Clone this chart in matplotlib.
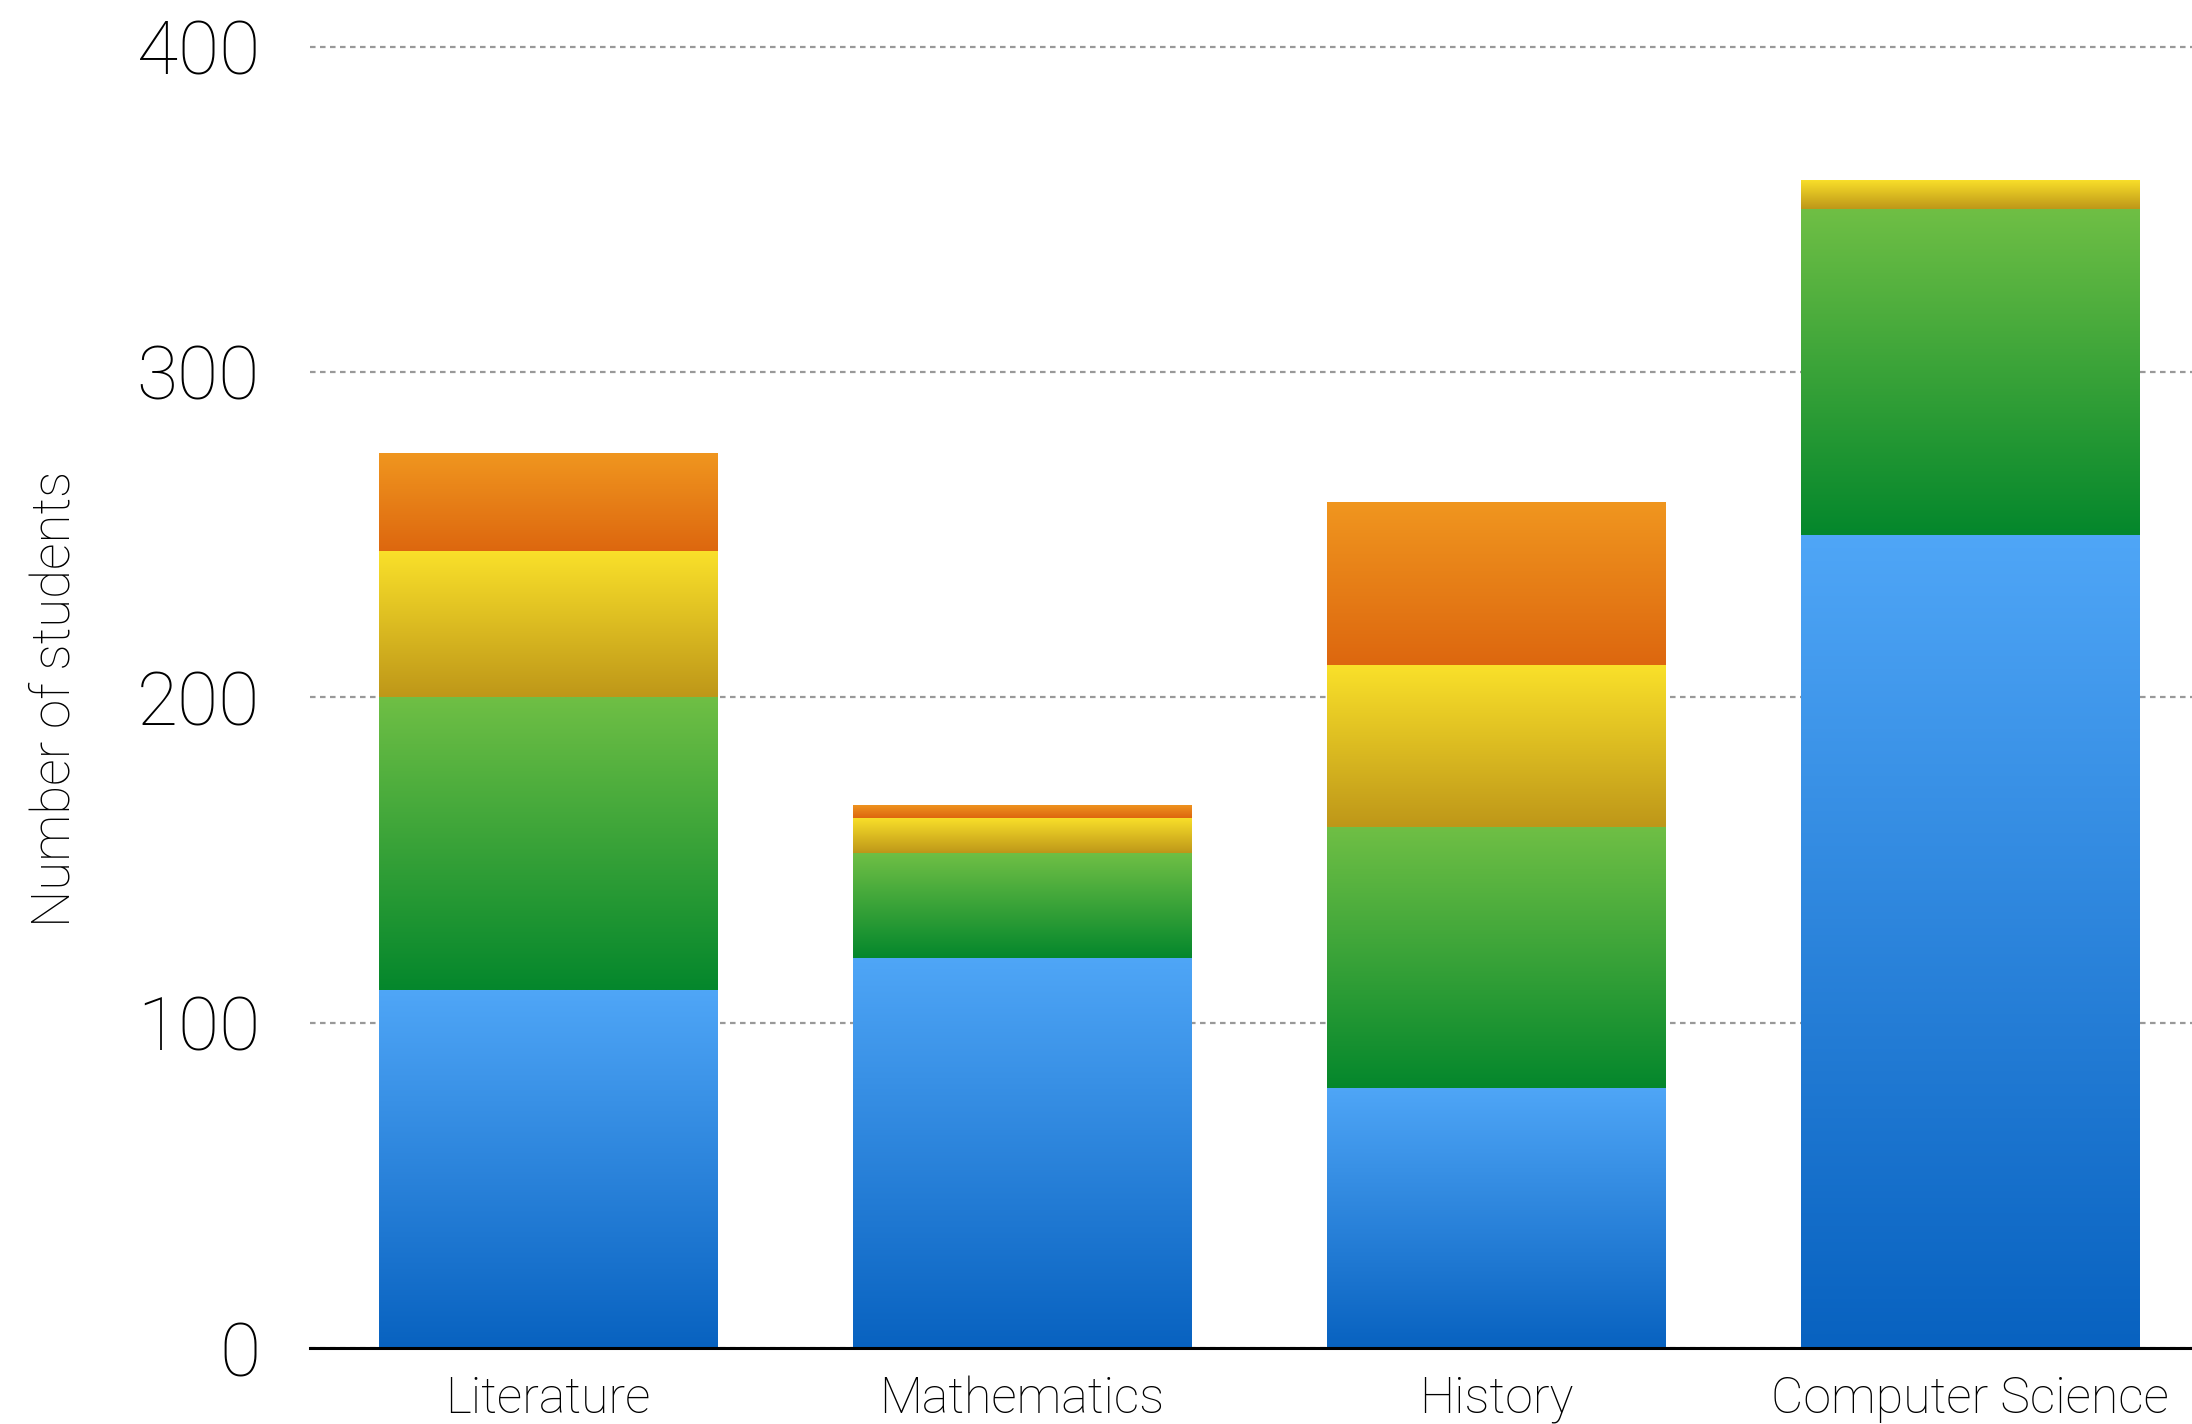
import matplotlib
matplotlib.use("Agg")
import matplotlib.pyplot as plt
import numpy as np
from matplotlib.colors import LinearSegmentedColormap

categories = ["Literature", "Mathematics", "History", "Computer Science"]
blue_vals = [110, 120, 80, 250]
green_vals = [90, 32, 80, 100]
yellow_vals = [45, 11, 50, 9]
orange_vals = [30, 4, 50, 0]
yticks = [0, 100, 200, 300, 400]

series = [blue_vals, green_vals, yellow_vals, orange_vals]
grads = [("#4FA6F7", "#0862C0"),
         ("#6FBF45", "#04872C"),
         ("#FAE12A", "#BE9719"),
         ("#F0961F", "#DD670F")]

plt.rcParams['font.family'] = ['Roboto', 'DejaVu Sans']

fig = plt.figure(figsize=(21.92, 14.24), dpi=100)
ax = fig.add_axes([310/2192, 0.05337, 1 - 310/2192, 0.9787 - 0.05337])

x = np.arange(len(categories))
bottom = np.zeros(len(categories))
grad = np.linspace(1, 0, 256).reshape(-1, 1)
for vals, (ctop, cbot) in zip(series, grads):
    bars = ax.bar(x, vals, width=0.715, bottom=bottom, color='none',
                  edgecolor='none', zorder=2)
    cmap = LinearSegmentedColormap.from_list("g", [cbot, ctop])
    for b in bars:
        if b.get_height() <= 0:
            continue
        x0, y0 = b.get_x(), b.get_y()
        w, h = b.get_width(), b.get_height()
        im = ax.imshow(grad, cmap=cmap, extent=[x0, x0 + w, y0, y0 + h],
                       aspect='auto', origin='upper', zorder=2,
                       interpolation='bilinear', vmin=0, vmax=1)
        im.set_clip_path(b)
    bottom = bottom + np.array(vals)

ax.set_xlim(-0.502, 3.468)
ax.set_ylim(0, 405)
ax.set_yticks(yticks)
ax.set_yticklabels([str(t) for t in yticks])
ax.set_xticks(x)
ax.set_xticklabels(categories)

ax.yaxis.grid(True, color='#999999', linestyle=(0, (2.5, 2.0)), linewidth=1.6)
ax.set_axisbelow(True)
for s in ['left', 'right', 'top']:
    ax.spines[s].set_visible(False)
ax.spines['bottom'].set_linewidth(2.2)
ax.spines['bottom'].set_color('black')
ax.spines['bottom'].set_zorder(3)

ax.tick_params(axis='y', length=0, pad=36, labelsize=54)
ax.tick_params(axis='x', length=0, pad=20, labelsize=36)
for lab in ax.get_yticklabels() + ax.get_xticklabels():
    lab.set_fontweight('light')
    lab.set_color('black')

fig.text(55/2192, 0.509, "Number of students", rotation=90, ha='center',
         va='center', fontsize=38, fontweight='light', color='black')

fig.savefig("out.png", dpi=100)
